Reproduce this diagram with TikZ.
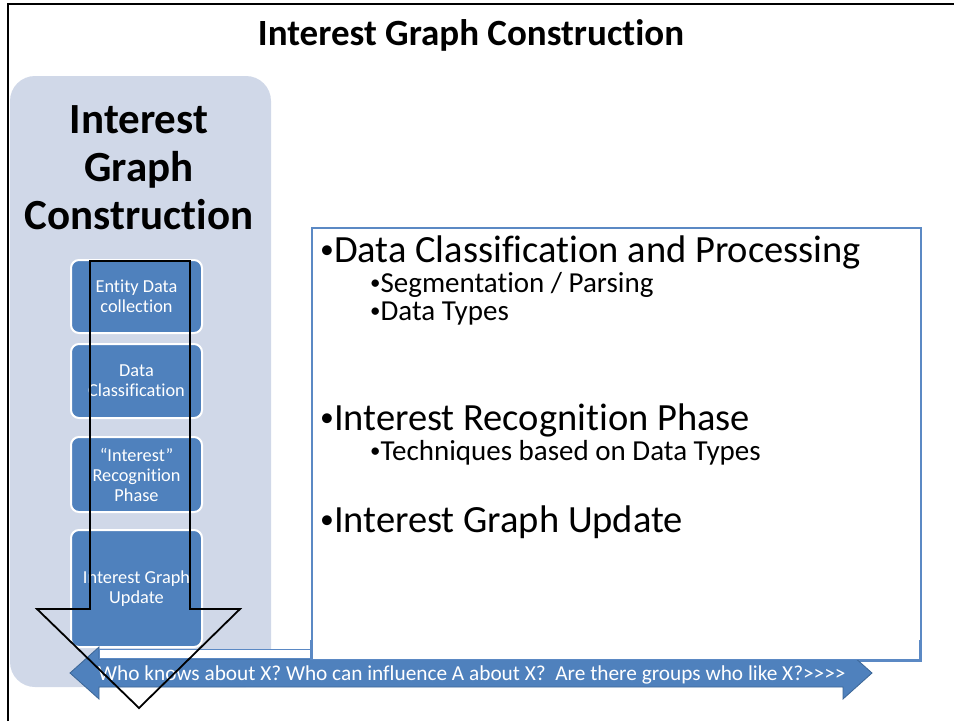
\documentclass[tikz,border=0pt]{standalone}
\usepackage{fontspec}
\defaultfontfeatures{}
\setmainfont{Carlito}[Ligatures={NoCommon,TeXOff}]
\definecolor{panelc}{HTML}{D0D8E8}
\definecolor{boxc}{HTML}{4F81BD}
\definecolor{edgec}{HTML}{3C6696}
\definecolor{tbc}{HTML}{5B89C4}
\newcommand\mybul{\raisebox{0.1em}{\scalebox{0.72}{•}}}
\tikzset{
  stepbox/.style={rectangle, rounded corners=8pt, fill=boxc, draw=white, line width=2pt,
    text=white, align=center, font=\fontsize{18.3}{20}\selectfont, minimum width=131pt, inner sep=0pt},
  mainitem/.style={anchor=base west, inner sep=0pt, font=\fontsize{38.5}{38}\selectfont},
  subitem/.style={anchor=base west, inner sep=0pt, font=\fontsize{29}{29}\selectfont},
}
\begin{document}
\begin{tikzpicture}[x=1pt,y=-1pt]
\useasboundingbox (0,0) rectangle (954,721);
\fill[white] (0,0) rectangle (954,721);
% frame
\draw[line width=2pt] (8,721) -- (8,4) -- (954,4);
% title
\node[font=\fontsize{37}{37}\bfseries\selectfont, inner sep=0pt, anchor=base] (title) at (471,45) {Interest Graph Construction};
% left panel
\fill[panelc, rounded corners=25pt] (10,76) rectangle (271,687);
\node[font=\fontsize{43}{48}\bfseries\selectfont, align=center, inner sep=0pt] (ptitle) at (139,168) {Interest\\Graph\\Construction};
% steps
\node[stepbox, minimum height=73pt] (b1) at (136.5,296.5) {Entity Data\\collection};
\node[stepbox, minimum height=74pt] (b2) at (136.5,381) {Data\\Classification};
\node[stepbox, minimum height=75pt] (b3) at (136.5,474.5) {“Interest”\\Recognition\\Phase};
\node[stepbox, minimum height=117pt] (b4) at (136.5,588.5) {Interest Graph\\Update};
% text box
\node[draw=tbc, line width=1.5pt, fill=white, minimum width=609pt, minimum height=433pt, anchor=north west, inner sep=0pt] (tb) at (311,227) {};
\node[mainitem] (m1) at (320,262) {\mybul Data Classification and Processing};
\node[subitem] (s1) at (370,292) {\mybul Segmentation / Parsing};
\node[subitem] (s2) at (370,320) {\mybul Data Types};
\node[mainitem] (m2) at (320,430) {\mybul Interest Recognition Phase};
\node[subitem] (s3) at (370,460) {\mybul Techniques based on Data Types};
\node[mainitem] (m3) at (320,532) {\mybul Interest Graph Update};
% bottom double arrow
\draw[fill=boxc, draw=edgec, line width=0.8pt, line join=miter]
  (70,673) -- (99,647) -- (99,659) -- (843,659) -- (843,647) -- (872,673) -- (843,699) -- (843,687) -- (99,687) -- (99,699) -- cycle;
\draw[tbc, fill=white, line width=1pt] (99,649) rectangle (312,658);
\fill[white] (313,643) rectangle (919,658.5);
\draw[tbc, line width=1.5pt] (311,640) -- (311,659.5) -- (920,659.5) -- (920,640);
\node[text=white, font=\fontsize{21.3}{21}\selectfont, inner sep=0pt, anchor=base west] (q) at (98,680) {Who knows about X? Who can influence A about X?\ \ Are there groups who like X?>\kern0pt>\kern0pt>\kern0pt>};
% big outline arrow
\draw[line width=1.8pt, line join=miter] (90,261) -- (190,261) -- (190,609) -- (240,609) -- (139,708) -- (37,609) -- (90,609) -- cycle;
\end{tikzpicture}
\end{document}
